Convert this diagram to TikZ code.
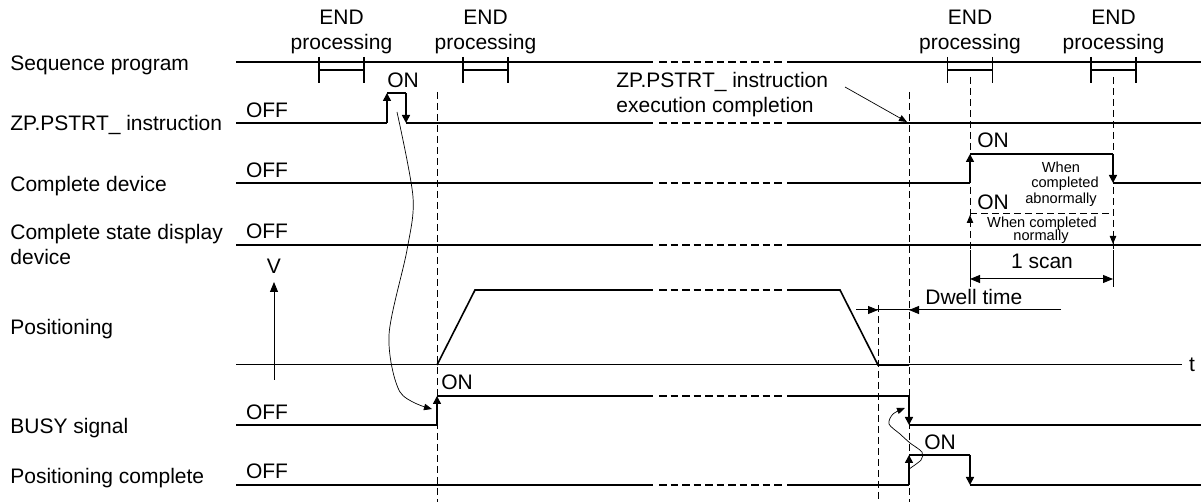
\documentclass[tikz,border=0pt]{standalone}
\usepackage{fontspec}
\setmainfont{Liberation Sans}
\usetikzlibrary{arrows.meta}

\begin{document}
\begin{tikzpicture}[x=0.5pt,y=-0.5pt,>={Triangle[length=4pt,width=4pt]},
  font=\fontsize{10.5}{12.6}\selectfont,
  sig/.style={line width=0.8pt},
  axis/.style={line width=0.5pt},
  guide/.style={line width=0.5pt,dash pattern=on 3.5pt off 2pt},
  curve/.style={line width=0.35pt},
  lab/.style={anchor=base west,inner sep=0pt},
  txt/.style={anchor=base,inner sep=0pt},
  small/.style={anchor=base,inner sep=0pt,font=\fontsize{7.3}{8}\selectfont},
  tip/.style={-{Triangle[length=4pt,width=3.2pt]}},
  dimtip/.style={-{Triangle[length=5pt,width=4pt]}}]
\useasboundingbox (0,0) rectangle (1201,502);
% signal names
\node[lab] (lseq) at (10,71) {Sequence program};
\node[lab] (lzp) at (10,131) {ZP.PSTRT\_ instruction};
\node[lab] (lcd) at (10,192) {Complete device};
\node[lab] (lcsd) at (10,240) {Complete state display};
\node[lab] (lcsdb) at (10,265) {device};
\node[lab] (lpos) at (10,335) {Positioning};
\node[lab] (lbusy) at (10,434) {BUSY signal};
\node[lab] (lpc) at (10,484) {Positioning complete};
% OFF / ON levels
\foreach \y/\n in {118/zp,178/cd,239/csd,420/busy,479/pc}
  \node[txt] (off\n) at (267,\y) {OFF};
\node[txt] (onzp) at (403,88) {ON};
\node[txt] (oncd) at (993,148) {ON};
\node[txt] (oncsd) at (993,210) {ON};
\node[txt] (onbusy) at (457,390) {ON};
\node[txt] (onpc) at (940,450) {ON};
% END processing brackets
\foreach \x/\n in {341.5/a,485.5/b,970/c,1113.5/d} {
  \node[txt] (end\n) at (\x,25) {END};
  \node[txt] (proc\n) at (\x,50) {processing};
  \draw[sig] (\x-22.5,57) -- (\x-22.5,83) (\x+22.5,57) -- (\x+22.5,83)
    (\x-22.5,70) -- (\x+22.5,70);
}
% timing guides
\draw[guide] (437,92) -- (437,502);
\draw[guide] (909,92) -- (909,502);
\draw[guide] (878,305) -- (878,502);
\draw[guide] (970,77) -- (970,250);
\draw[guide] (1113,77) -- (1113,250);
% sequence program
\draw[sig] (236,62) -- (1201,62);
% ZP.PSTRT_ instruction
\draw[sig] (236,123) -- (387,123);
\draw[sig,->] (387,123) -- (387,93);
\draw[sig] (387,93) -- (406,93);
\draw[sig,->] (406,93) -- (406,123);
\draw[sig] (406,123) -- (1201,123);
% complete device
\draw[sig] (236,183) -- (970,183);
\draw[sig,->] (970,183) -- (970,154);
\draw[sig] (970,154) -- (1113,154);
\draw[sig,->] (1113,154) -- (1113,183);
\draw[sig] (1113,183) -- (1201,183);
% complete state display device
\draw[sig] (236,245) -- (1201,245);
\draw[guide] (970,214) -- (1113,214);
\draw[axis,tip] (970,226) -- (970,215);
\draw[axis,tip] (1113,233) -- (1113,244);
% positioning
\draw[axis] (236,365) -- (1182,365);
\draw[axis,dimtip] (274,380) -- (274,282);
\node[txt] (vlab) at (274,274) {V};
\node[txt] (tlab) at (1192,372) {t};
\draw[sig] (437,365) -- (475,290) -- (840,290) -- (878,365) -- (909,365);
% BUSY signal
\draw[sig] (236,425) -- (437,425);
\draw[sig,->] (437,425) -- (437,396);
\draw[sig] (437,396) -- (909,396);
\draw[sig,->] (909,396) -- (909,425);
\draw[sig] (909,425) -- (1201,425);
% positioning complete
\draw[sig] (236,485) -- (909,485);
\draw[sig,->] (909,485) -- (909,455);
\draw[sig] (909,455) -- (970,455);
\draw[sig,->] (970,455) -- (970,485);
\draw[sig] (970,485) -- (1201,485);
% omitted time span
\foreach \y in {62,123,183,245,290,396,485} {
  \draw[white,line width=2pt] (653,\y) -- (787,\y);
  \draw[sig,dash pattern=on 3.75pt off 2pt] (659,\y) -- (782,\y);
}
% execution completion
\node[lab] (exec1) at (616,88) {ZP.PSTRT\_ instruction};
\node[lab] (exec2) at (616,113) {execution completion};
\coordinate (execfrom) at (845,87);
\coordinate (execto) at (907,122);
\draw[curve,tip] (execfrom) -- (execto);
% complete device notes
\node[small] (abn1) at (1061,173) {When};
\node[small] (abn2) at (1065,188) {completed};
\node[small] (abn3) at (1061,204) {abnormally};
\node[small] (nor1) at (1042,228) {When completed};
\node[small] (nor2) at (1041,241) {normally};
% 1 scan
\draw[axis] (970,250) -- (970,287) (1113,250) -- (1113,287);
\draw[axis,{Triangle[length=5pt,width=4pt]}-{Triangle[length=5pt,width=4pt]}] (970,279) -- (1113,279);
\node[txt] (scan) at (1042,269) {1 scan};
% dwell time
\draw[axis] (856,310) -- (1061,310);
\draw[axis,dimtip] (856,310) -- (878,310);
\draw[axis,dimtip] (1061,310) -- (909,310);
\node[lab] (dwell) at (925,305) {Dwell time};
% cause and effect
\draw[curve,tip] plot[smooth] coordinates {(397,112)(413,197)(407,250)(389,335)(400,392)(432,409)};
\draw[curve,tip] plot[smooth] coordinates {(909,469)(921,460)(922,452)(910,443)(900,434)(889,424)(893,414)(905,408)};
\end{tikzpicture}
\end{document}
